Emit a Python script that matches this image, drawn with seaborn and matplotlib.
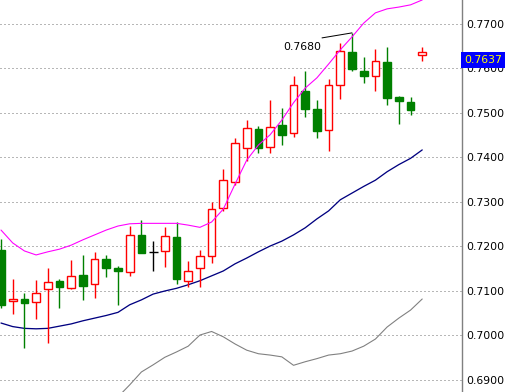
import numpy as np
import pandas as pd
import matplotlib
matplotlib.use("Agg")
import matplotlib.pyplot as plt
import seaborn as sns

# ---- data ----
opens = [0.7192, 0.7078, 0.7082, 0.7075, 0.7104, 0.7122, 0.7106, 0.7136, 0.7115, 0.7171,
         0.7152, 0.7142, 0.7226, 0.7188, 0.7189, 0.7221, 0.7122, 0.7151, 0.7178, 0.7286,
         0.7346, 0.7421, 0.7464, 0.7424, 0.7473, 0.7454, 0.7550, 0.7509, 0.7462, 0.7563,
         0.7637, 0.7594, 0.7582, 0.7615, 0.7535, 0.7524, 0.7631]
highs = [0.7217, 0.7127, 0.7095, 0.7125, 0.7152, 0.7127, 0.7170, 0.7181, 0.7188, 0.7181,
         0.7156, 0.7247, 0.7260, 0.7212, 0.7244, 0.7254, 0.7167, 0.7192, 0.7299, 0.7374,
         0.7444, 0.7484, 0.7471, 0.7529, 0.7512, 0.7583, 0.7594, 0.7529, 0.7576, 0.7657,
         0.7680, 0.7626, 0.7644, 0.7648, 0.7538, 0.7535, 0.7648]
lows = [0.7062, 0.7048, 0.6973, 0.7038, 0.6984, 0.7062, 0.7105, 0.7080, 0.7084, 0.7132,
        0.7069, 0.7134, 0.7185, 0.7146, 0.7155, 0.7116, 0.7110, 0.7108, 0.7164, 0.7280,
        0.7338, 0.7393, 0.7411, 0.7411, 0.7427, 0.7445, 0.7492, 0.7444, 0.7415, 0.7531,
        0.7594, 0.7567, 0.7550, 0.7519, 0.7476, 0.7496, 0.7616]
closes = [0.7069, 0.7082, 0.7074, 0.7095, 0.7120, 0.7110, 0.7133, 0.7112, 0.7173, 0.7152,
          0.7146, 0.7226, 0.7186, 0.7188, 0.7223, 0.7128, 0.7144, 0.7178, 0.7284, 0.7349,
          0.7432, 0.7466, 0.7422, 0.7468, 0.7451, 0.7563, 0.7508, 0.7460, 0.7564, 0.7639,
          0.7599, 0.7582, 0.7616, 0.7534, 0.7526, 0.7507, 0.7637]
band_upper = [0.7237, 0.7208, 0.7190, 0.7181, 0.7188, 0.7194, 0.7203, 0.7215, 0.7226, 0.7237,
              0.7246, 0.7251, 0.7252, 0.7252, 0.7252, 0.7252, 0.7248, 0.7243, 0.7255, 0.7284,
              0.7340, 0.7394, 0.7428, 0.7451, 0.7484, 0.7523, 0.7556, 0.7579, 0.7610, 0.7642,
              0.7671, 0.7702, 0.7725, 0.7734, 0.7738, 0.7743, 0.7754]
band_mid = [0.7028, 0.7020, 0.7016, 0.7015, 0.7016, 0.7021, 0.7026, 0.7033, 0.7039, 0.7045,
            0.7052, 0.7069, 0.7080, 0.7093, 0.7100, 0.7106, 0.7114, 0.7123, 0.7134, 0.7145,
            0.7161, 0.7174, 0.7188, 0.7201, 0.7212, 0.7226, 0.7242, 0.7262, 0.7280, 0.7305,
            0.7320, 0.7335, 0.7349, 0.7368, 0.7384, 0.7398, 0.7417]
band_lower = [0.6819, 0.6833, 0.6842, 0.6848, 0.6844, 0.6848, 0.6848, 0.6851, 0.6853, 0.6855,
              0.6862, 0.6889, 0.6918, 0.6934, 0.6951, 0.6963, 0.6976, 0.7001, 0.7009, 0.6997,
              0.6981, 0.6967, 0.6959, 0.6956, 0.6952, 0.6933, 0.6941, 0.6948, 0.6956, 0.6959,
              0.6965, 0.6976, 0.6992, 0.7019, 0.7039, 0.7057, 0.7082]
y_ticks = [0.6900, 0.7000, 0.7100, 0.7200, 0.7300, 0.7400, 0.7500, 0.7600, 0.7700]
peak_label = "0.7680"

df = pd.DataFrame({"i": np.arange(len(opens)), "open": opens, "high": highs,
                   "low": lows, "close": closes, "upper": band_upper,
                   "mid": band_mid, "lower": band_lower})

sns.set_style("white")
plt.rcParams["font.family"] = ["DejaVu Sans"]

W, H = 505, 392
fig = plt.figure(figsize=(W / 100, H / 100), dpi=100)
ax = fig.add_axes([0, 0, 462 / W, 1])

PX = 0.72  # one pixel in points
RED, GREEN, BLACK = "#FF0000", "#008000", "#000000"

# grid
for t in y_ticks:
    ax.axhline(t, color="#707070", lw=PX, ls=(0, (1, 3)), zorder=0)

# bands
sns.lineplot(data=df, x="i", y="lower", color="#808080", lw=PX * 1.1, ax=ax, zorder=1)
sns.lineplot(data=df, x="i", y="mid", color="#000080", lw=PX * 1.3, ax=ax, zorder=1)
sns.lineplot(data=df, x="i", y="upper", color="#FF00FF", lw=PX * 1.1, ax=ax, zorder=4)

# candles
bw = 0.66
up = df[df.close > df.open]
dn = df[df.close < df.open]
dj = df[df.close == df.open]
for sub, col, fc in [(up, RED, "white"), (dn, GREEN, GREEN)]:
    top = np.maximum(sub.open, sub.close)
    bot = np.minimum(sub.open, sub.close)
    ax.vlines(sub.i, top, sub.high, color=col, lw=PX * 1.4, zorder=2)
    ax.vlines(sub.i, sub.low, bot, color=col, lw=PX * 1.4, zorder=2)
    ax.bar(sub.i, top - bot, bottom=bot, width=bw, facecolor=fc, edgecolor=col,
           linewidth=PX * 1.4, zorder=3)
ax.vlines(dj.i, dj.low, dj.high, color=BLACK, lw=PX * 1.4, zorder=2)
ax.hlines(dj.close, dj.i - bw / 2 - 0.05, dj.i + bw / 2 + 0.05, color=BLACK, lw=PX * 1.4, zorder=3)

# peak annotation
pk = int(np.argmax(highs))
ax.annotate("", xy=(pk, highs[pk]), xytext=(-30, -5), textcoords="offset pixels",
            arrowprops=dict(arrowstyle="-", color=BLACK, lw=PX, shrinkA=0, shrinkB=0),
            zorder=5)
ax.annotate(peak_label, xy=(pk, highs[pk]), xytext=(-31, -14), textcoords="offset pixels",
            ha="right", va="center", fontsize=7.8, color=BLACK, zorder=5)

# axes
ax.set_xlim(-0.085, 39.4)
ax.set_ylim(0.68730, 0.77539)
ax.set_xlabel("")
ax.set_ylabel("")
ax.set_xticks([])
ax.yaxis.tick_right()
ax.set_yticks(y_ticks)
ax.set_yticklabels([f"{t:.4f}" for t in y_ticks])
ax.tick_params(axis="y", length=0, pad=3, labelsize=7.8, labelcolor=BLACK)
for s in ["left", "top", "bottom"]:
    ax.spines[s].set_visible(False)
ax.spines["right"].set_color("#808080")
ax.spines["right"].set_linewidth(PX * 1.4)

# last price label
ax.annotate(f"{closes[-1]:.4f}", xy=(1.0, closes[-1]), xycoords=("axes fraction", "data"),
            xytext=(2, -3), textcoords="offset pixels", ha="left", va="top",
            fontsize=7.8, color="#FFFF00", annotation_clip=False, zorder=10,
            bbox=dict(boxstyle="square,pad=0.25", fc="#0000FF", ec="none"))

fig.savefig("out.png", dpi=100)
